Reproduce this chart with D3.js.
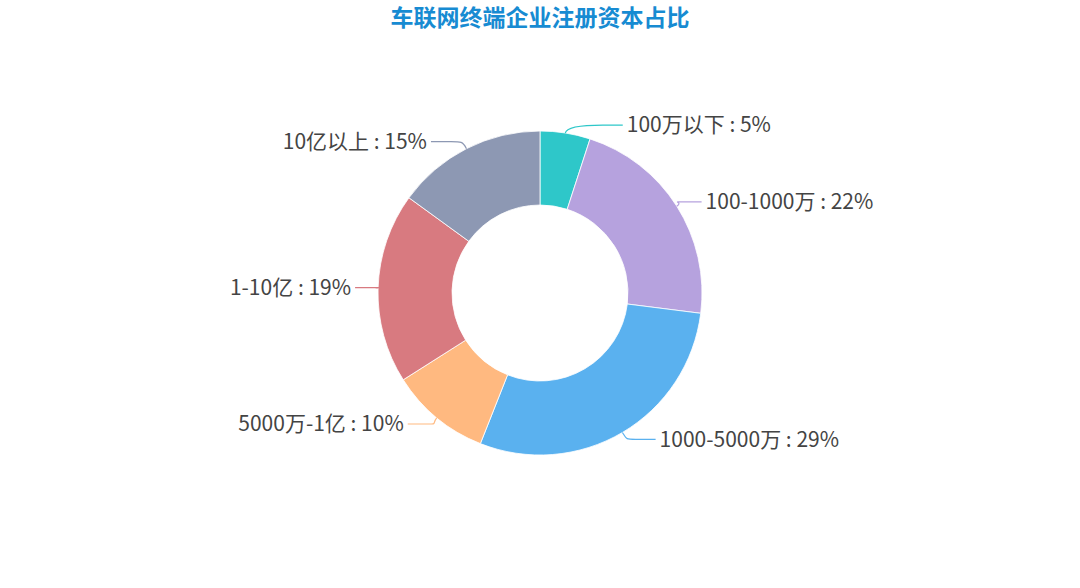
<!DOCTYPE html>
<html><head><meta charset="utf-8">
<script src="https://cdn.jsdelivr.net/npm/d3@7/dist/d3.min.js"></script>
<style>html,body{margin:0;padding:0;background:#fff;}svg{display:block;}</style>
</head><body>
<svg id="c" width="1080" height="588"></svg>
<script>
const title = "车联网终端企业注册资本占比";
const categories = ["100万以下", "100-1000万", "1000-5000万", "5000万-1亿", "1-10亿", "10亿以上"];
const values = [5, 22, 29, 10, 19, 15];
const colors = ["#2ec7c9", "#b6a2de", "#5ab1ef", "#ffb980", "#d87a80", "#8d98b3"];

const W = 1080, H = 588;
const cx = 540, cy = 293, R = 162, r0 = 88;
const svg = d3.select("#c");
const font = "'Noto Sans CJK SC','Noto Sans',sans-serif";

svg.append("text").attr("x", W/2).attr("y", 26).attr("text-anchor", "middle")
  .attr("font-family", font).attr("font-weight", "bold").attr("font-size", 23)
  .attr("fill", "#178bd2").text(title);

const data = categories.map((c, i) => ({name: c, value: values[i], color: colors[i]}));
const pie = d3.pie().value(d => d.value).sort(null);
const arcs = pie(data);
const arc = d3.arc().innerRadius(r0).outerRadius(R);
const g = svg.append("g").attr("transform", `translate(${cx},${cy})`);

g.selectAll("path.slice").data(arcs).join("path").attr("class", "slice")
  .attr("d", arc).attr("fill", d => d.data.color)
  .attr("stroke", "#fff").attr("stroke-width", 0.8);

const Rl = 189;
arcs.forEach(a => {
  const m = (a.startAngle + a.endAngle) / 2;
  const sx = Math.sin(m), sy = -Math.cos(m);
  const side = sx >= 0 ? 1 : -1;
  const p1 = [R * sx, R * sy];
  const ly = (R + 8) * sy;
  const tx = side * Math.sqrt(Math.max(0, Rl * Rl - ly * ly));
  const end = [tx - side * 4, ly];
  const elbow = [end[0] - side * 20, ly];
  const c1 = [p1[0] + sx * 8, p1[1] + sy * 8];
  const c2 = [elbow[0] - side * 10, ly];
  g.append("path")
    .attr("d", `M${p1[0]},${p1[1]} C${c1[0]},${c1[1]} ${c2[0]},${c2[1]} ${elbow[0]},${elbow[1]} L${end[0]},${end[1]}`)
    .attr("fill", "none").attr("stroke", a.data.color).attr("stroke-width", 1.2);
  g.append("text").attr("x", tx).attr("y", ly).attr("dy", "0.35em")
    .attr("text-anchor", side > 0 ? "start" : "end")
    .attr("font-family", font).attr("font-size", 21).attr("fill", "#444")
    .text(`${a.data.name} : ${a.data.value}%`);
});
</script>
</body></html>
